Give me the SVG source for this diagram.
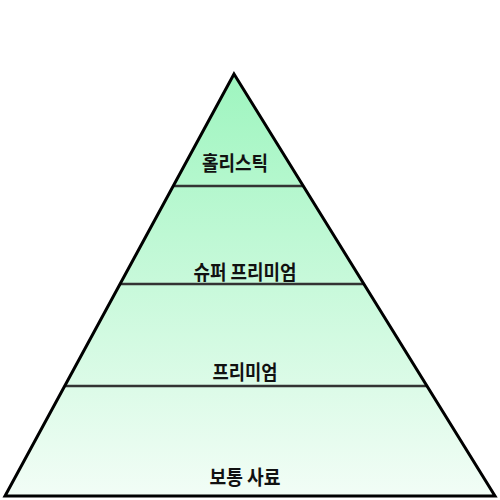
<svg xmlns="http://www.w3.org/2000/svg" width="500" height="500" viewBox="0 0 500 500">
<defs>
<linearGradient id="g" gradientUnits="userSpaceOnUse" x1="0" y1="74" x2="0" y2="496">
<stop offset="0" stop-color="#9ef5bf"/>
<stop offset="1" stop-color="#f2fdf6"/>
</linearGradient>
<style>
.lbl{font-family:"Noto Sans CJK KR","Noto Sans",sans-serif;font-size:20px;font-weight:bold;fill:#111;text-anchor:middle}
.div{stroke:#333;stroke-width:2.5;fill:none}
</style>
</defs>
<rect width="500" height="500" fill="#fff"/>
<polygon points="234,74 495,496 5,496" fill="url(#g)" stroke="none"/>
<g id="connectors">
<line class="div" x1="173" y1="186" x2="303" y2="186"/>
<line class="div" x1="120" y1="284" x2="364" y2="284"/>
<line class="div" x1="65" y1="386" x2="427" y2="386"/>
</g>
<polygon points="234,74 495,496 5,496" fill="none" stroke="#000" stroke-width="3" stroke-linejoin="miter"/>
<g id="layer1"><text class="lbl" x="235" y="171" textLength="66" lengthAdjust="spacingAndGlyphs">홀리스틱</text></g>
<g id="layer2"><text class="lbl" x="245" y="279.5" textLength="103" lengthAdjust="spacingAndGlyphs">슈퍼 프리미엄</text></g>
<g id="layer3"><text class="lbl" x="245" y="380" textLength="65" lengthAdjust="spacingAndGlyphs">프리미엄</text></g>
<g id="layer4"><text class="lbl" x="245" y="485" textLength="71" lengthAdjust="spacingAndGlyphs">보통 사료</text></g>
</svg>
